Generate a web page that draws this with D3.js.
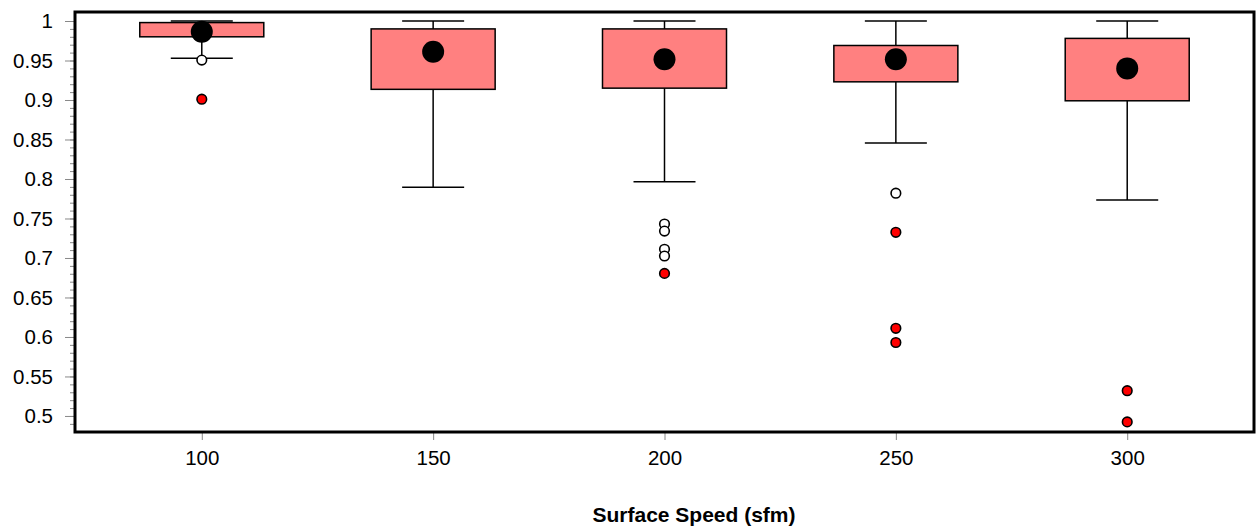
<!DOCTYPE html>
<html>
<head>
<meta charset="utf-8">
<script src="https://cdn.jsdelivr.net/npm/d3@7"></script>
<style>
  body { margin: 0; background: #fff; }
  svg { display: block; font-family: "Liberation Sans", Arial, sans-serif; }
</style>
</head>
<body>
<main></main>
<script>
// values
const speeds = [100, 150, 200, 250, 300];
const upperWhisker = [1.0, 1.0, 1.0, 1.0, 1.0];
const q3 = [0.998, 0.990, 0.990, 0.969, 0.978];
const q1 = [0.980, 0.9135, 0.915, 0.923, 0.899];
const lowerWhisker = [0.953, 0.7895, 0.7965, 0.8455, 0.7735];
const means = [0.9865, 0.961, 0.9515, 0.9515, 0.940];

// open circles = outliers, red = far outliers
const outlierSpeed = [100, 200, 200, 200, 200, 250];
const outlierValue = [0.9505, 0.743, 0.734, 0.711, 0.7025, 0.782];
const farSpeed = [100, 200, 250, 250, 250, 300, 300];
const farValue = [0.901, 0.6805, 0.7325, 0.611, 0.593, 0.532, 0.4925];

const yTickValues = [0.5, 0.55, 0.6, 0.65, 0.7, 0.75, 0.8, 0.85, 0.9, 0.95, 1];
const xTitle = "Surface Speed (sfm)";

const w = 1260;
const h = 529;
const plotLeft = 75, plotRight = 1254, plotTop = 12, plotBottom = 432;

const scaleX = d3.scaleLinear().domain([72.6, 327.4]).range([plotLeft, plotRight]);
const scaleY = d3.scaleLinear().domain([0.4797, 1.0114]).range([plotBottom, plotTop]);

const boxHalf = 13.4;   // in sfm units
const capHalf = 6.7;

const svg = d3.select("main").append("svg")
  .attr("width", w)
  .attr("height", h);

// minor y ticks every 0.01
const minorTicks = d3.range(49, 101).map(d => d / 100);
svg.append("g")
  .attr("transform", `translate(${plotLeft},0)`)
  .call(d3.axisLeft(scaleY).tickValues(minorTicks).tickSize(5).tickFormat(""))
  .call(g => g.select(".domain").remove())
  .call(g => g.selectAll("line").attr("stroke", "#888"));

// major y ticks
svg.append("g")
  .attr("transform", `translate(${plotLeft},0)`)
  .call(d3.axisLeft(scaleY).tickValues(yTickValues).tickSize(10).tickPadding(12)
    .tickFormat(d => String(Math.round(d * 100) / 100)))
  .call(g => g.select(".domain").remove())
  .call(g => g.selectAll("line").attr("stroke", "#888"))
  .call(g => g.selectAll("text").attr("font-size", 20.5).attr("fill", "#000")
    .attr("font-family", "Liberation Sans, Arial, sans-serif"));

// x axis
svg.append("g")
  .attr("transform", `translate(0,${plotBottom})`)
  .call(d3.axisBottom(scaleX).tickValues(speeds).tickSize(8).tickPadding(10))
  .call(g => g.select(".domain").remove())
  .call(g => g.selectAll("line").attr("stroke", "#888"))
  .call(g => g.selectAll("text").attr("font-size", 20.5).attr("fill", "#000")
    .attr("font-family", "Liberation Sans, Arial, sans-serif"));

// axis title
svg.append("text")
  .attr("x", 694)
  .attr("y", 522)
  .attr("text-anchor", "middle")
  .attr("font-size", 21)
  .attr("font-weight", "bold")
  .text(xTitle);

const boxes = speeds.map((s, i) => ({
  s, hi: upperWhisker[i], q3: q3[i], q1: q1[i], lo: lowerWhisker[i], mean: means[i]
}));

const plot = svg.append("g");

// whisker stems
plot.selectAll(".stem-up").data(boxes).enter().append("line")
  .attr("x1", d => scaleX(d.s)).attr("x2", d => scaleX(d.s))
  .attr("y1", d => scaleY(d.hi)).attr("y2", d => scaleY(d.q3))
  .attr("stroke", "#000").attr("stroke-width", 1.5);
plot.selectAll(".stem-down").data(boxes).enter().append("line")
  .attr("x1", d => scaleX(d.s)).attr("x2", d => scaleX(d.s))
  .attr("y1", d => scaleY(d.q1)).attr("y2", d => scaleY(d.lo))
  .attr("stroke", "#000").attr("stroke-width", 1.5);

// whisker caps
["hi", "lo"].forEach(k => {
  plot.selectAll(".cap-" + k).data(boxes).enter().append("line")
    .attr("x1", d => scaleX(d.s - capHalf)).attr("x2", d => scaleX(d.s + capHalf))
    .attr("y1", d => scaleY(d[k])).attr("y2", d => scaleY(d[k]))
    .attr("stroke", "#000").attr("stroke-width", 1.5);
});

// boxes
plot.selectAll("rect.box").data(boxes).enter().append("rect")
  .attr("class", "box")
  .attr("x", d => scaleX(d.s - boxHalf))
  .attr("width", d => scaleX(d.s + boxHalf) - scaleX(d.s - boxHalf))
  .attr("y", d => scaleY(d.q3))
  .attr("height", d => scaleY(d.q1) - scaleY(d.q3))
  .attr("fill", "#ff8080")
  .attr("stroke", "#000")
  .attr("stroke-width", 1.5);

// means
plot.selectAll("circle.mean").data(boxes).enter().append("circle")
  .attr("class", "mean")
  .attr("cx", d => scaleX(d.s))
  .attr("cy", d => scaleY(d.mean))
  .attr("r", 11)
  .attr("fill", "#000");

// outliers
plot.selectAll("circle.out").data(outlierSpeed.map((s, i) => [s, outlierValue[i]])).enter()
  .append("circle").attr("class", "out")
  .attr("cx", d => scaleX(d[0])).attr("cy", d => scaleY(d[1]))
  .attr("r", 4.8).attr("fill", "#fff").attr("stroke", "#000").attr("stroke-width", 1.6);

plot.selectAll("circle.far").data(farSpeed.map((s, i) => [s, farValue[i]])).enter()
  .append("circle").attr("class", "far")
  .attr("cx", d => scaleX(d[0])).attr("cy", d => scaleY(d[1]))
  .attr("r", 4.8).attr("fill", "#ff0000").attr("stroke", "#000").attr("stroke-width", 1.6);

// plot frame
svg.append("rect")
  .attr("x", plotLeft).attr("y", plotTop)
  .attr("width", plotRight - plotLeft).attr("height", plotBottom - plotTop)
  .attr("fill", "none")
  .attr("stroke", "#000")
  .attr("stroke-width", 3);
</script>
</body>
</html>
